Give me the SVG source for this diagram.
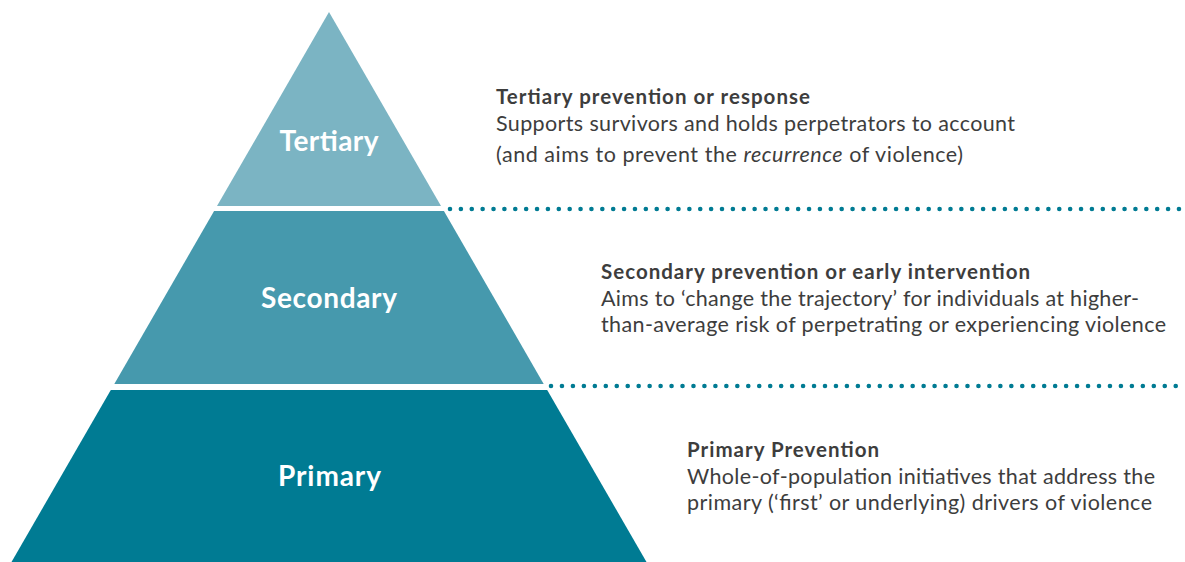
<svg xmlns="http://www.w3.org/2000/svg" width="1185" height="562" viewBox="0 0 1185 562">
<style>
.lbl{font-family:Lato,"Open Sans","Liberation Sans",sans-serif;font-weight:700;font-size:28px;fill:#ffffff;text-anchor:middle}
.ttl{font-family:Lato,"Open Sans","Liberation Sans",sans-serif;font-weight:700;font-size:20.5px;fill:#3d3d3d}
.body{font-family:Lato,"Open Sans","Liberation Sans",sans-serif;font-weight:400;font-size:21.5px;fill:#3d3d3d}
.dots{fill:none;stroke:#007b93;stroke-width:4.6;stroke-linecap:round}
</style>
<rect width="1185" height="562" fill="#ffffff"/>
<g id="tertiary">
<polygon points="329,12 441,206 217,206" fill="#7bb4c3"/>
<text class="lbl" x="329" y="151" textLength="99">Tertiary</text>
</g>
<g id="secondary">
<polygon points="214.1,211 443.9,211 543.7,384 114.3,384" fill="#4699ad"/>
<text class="lbl" x="329" y="308" textLength="136">Secondary</text>
</g>
<g id="primary">
<polygon points="110.8,390 547.2,390 646.5,562 11.5,562" fill="#007b93"/>
<text class="lbl" x="329.5" y="486" textLength="103">Primary</text>
</g>
<g id="connectors">
<line class="dots" x1="450" y1="209" x2="1179" y2="209" stroke-dasharray="0 10.88"/>
<line class="dots" x1="551" y1="386" x2="1176" y2="386" stroke-dasharray="0 10.96"/>
</g>
<g id="desc-tertiary">
<text class="ttl" x="496" y="103.5" textLength="314">Tertiary prevention or response</text>
<text class="body" x="496" y="131" textLength="519">Supports survivors and holds perpetrators to account</text>
<text class="body" x="496" y="161.5" textLength="467">(and aims to prevent the <tspan font-style="italic">recurrence</tspan> of violence)</text>
</g>
<g id="desc-secondary">
<text class="ttl" x="601" y="279" textLength="429">Secondary prevention or early intervention</text>
<text class="body" x="601" y="305.5" textLength="538">Aims to ‘change the trajectory’ for individuals at higher-</text>
<text class="body" x="601" y="332" textLength="565">than-average risk of perpetrating or experiencing violence</text>
</g>
<g id="desc-primary">
<text class="ttl" x="687" y="457" textLength="192">Primary Prevention</text>
<text class="body" x="687" y="483.5" textLength="468">Whole-of-population initiatives that address the</text>
<text class="body" x="687" y="509.5" textLength="465">primary (‘first’ or underlying) drivers of violence</text>
</g>
</svg>
